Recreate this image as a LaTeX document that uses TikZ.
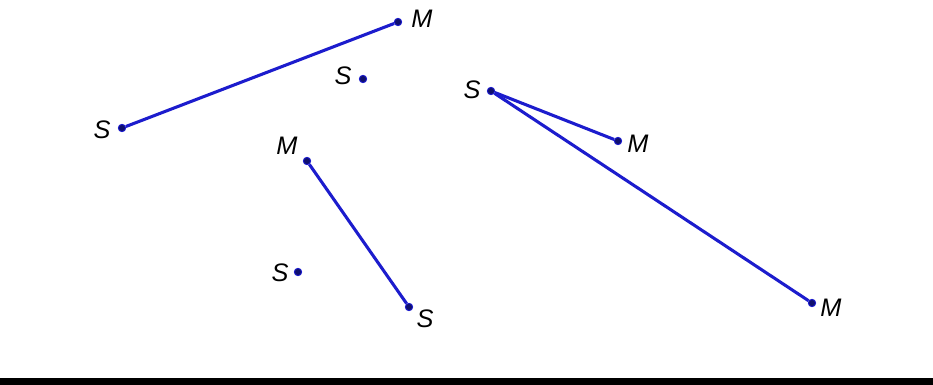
\documentclass[tikz,border=0pt]{standalone}
\usepackage{fontspec}
\setmainfont{Liberation Sans}
\usetikzlibrary{positioning}
\definecolor{segblue}{RGB}{28,28,205}
\definecolor{dotblue}{RGB}{15,15,110}
\tikzset{
  pt/.style={circle, fill=dotblue, draw=segblue, line width=0.7pt, inner sep=0pt, minimum size=5.5pt},
  lbl/.style={font=\fontsize{19}{22}\selectfont\itshape, inner sep=0pt, text height=13.6pt, text depth=0pt},
  seg/.style={segblue, line width=2.3pt}
}
\begin{document}
\begin{tikzpicture}[x=0.75pt,y=-0.75pt]
			%%%%% START %%%%%
			\useasboundingbox (0,0) rectangle (933,385);
			
			% points
			\node[pt] (s1) at (122,128) {};
			\node[pt] (m1) at (398,22) {};
			\node[pt] (s2) at (363,79) {};
			\node[pt] (s3) at (491,91) {};
			\node[pt] (m2) at (618,141) {};
			\node[pt] (m3) at (812,303) {};
			\node[pt] (m4) at (307,161) {};
			\node[pt] (s4) at (409,307) {};
			\node[pt] (s5) at (298,272) {};
			
			% labels
			\node[lbl] (ls1) at (102,129) {S};
			\node[lbl] (lm1) at (422,18) {M};
			\node[lbl] (ls2) at (343,75) {S};
			\node[lbl] (ls3) at (472,89) {S};
			\node[lbl] (lm2) at (638,143) {M};
			\node[lbl] (lm3) at (831,307) {M};
			\node[lbl] (lm4) at (287,145) {M};
			\node[lbl] (ls4) at (425,318) {S};
			\node[lbl] (ls5) at (280,272) {S};
			
			% segments
			\draw[seg] (s1) -- (m1);
			\draw[seg] (s3) -- (m2);
			\draw[seg] (s3) -- (m3);
			\draw[seg] (m4) -- (s4);
			
			\draw[fill=black, draw=none] (0,378) rectangle (933,385);
			%%%%% END %%%%%
\end{tikzpicture}
\end{document}
